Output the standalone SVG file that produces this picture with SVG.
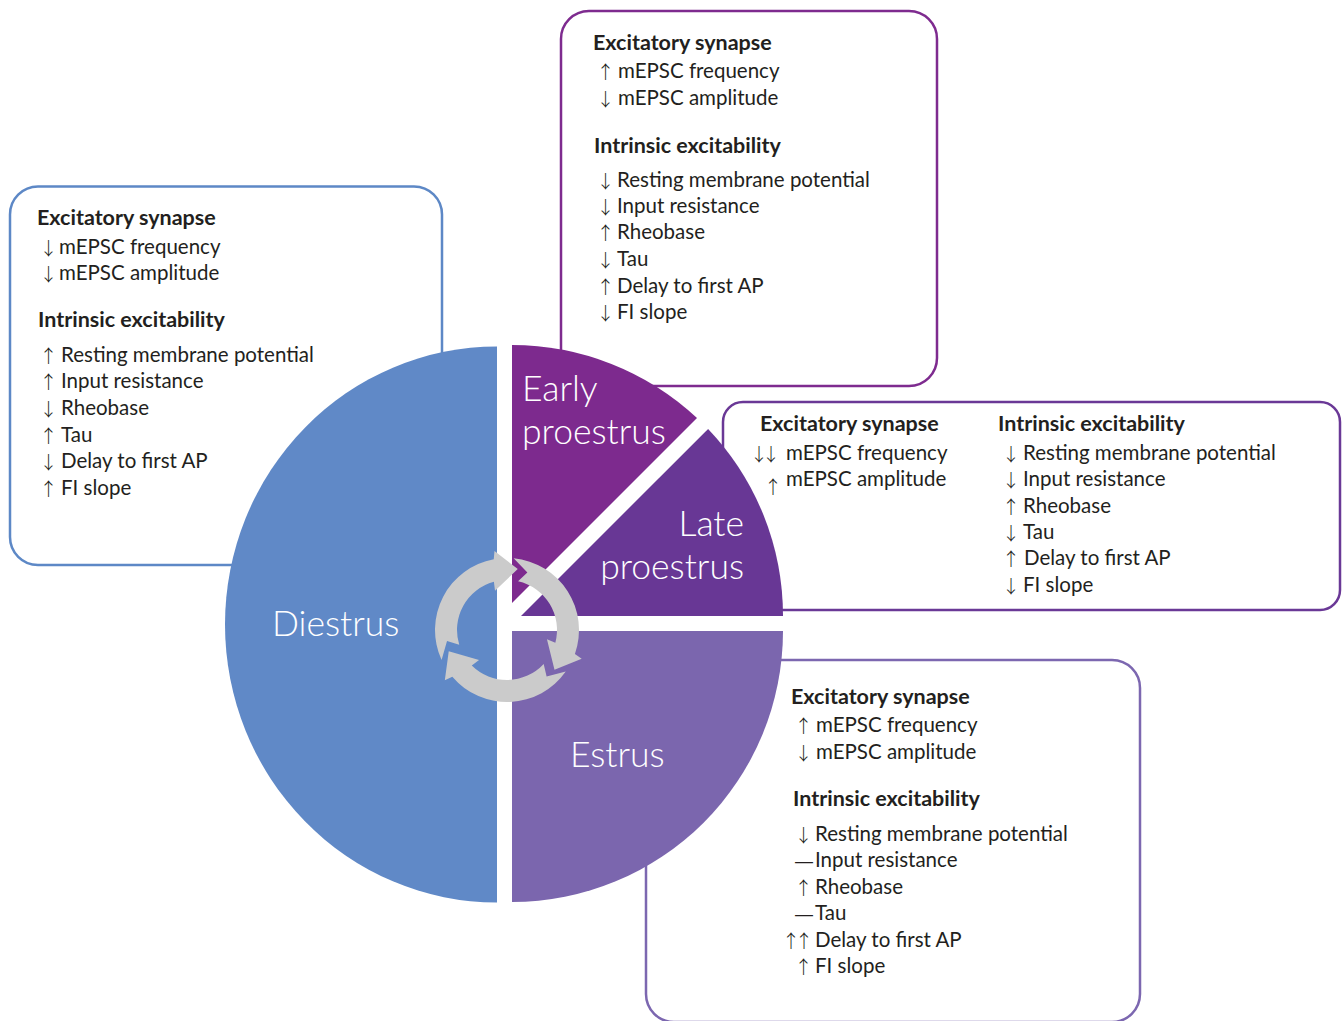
<svg xmlns="http://www.w3.org/2000/svg" xmlns:xlink="http://www.w3.org/1999/xlink" width="1344" height="1021" viewBox="0 0 1344 1021">
  <style>
    .box { fill: #ffffff; stroke-width: 2.5; }
    .t { font-family: Lato, "Open Sans", sans-serif; font-size: 20.5px; font-weight: 400; fill: #231f20; }
    .h { font-family: Lato, "Open Sans", sans-serif; font-size: 21.5px; font-weight: 700; fill: #231f20; }
    .ar { font-family: "Noto Sans CJK JP", "DejaVu Sans", sans-serif; font-size: 18px; font-weight: 300; text-anchor: middle; }
    .ar2 { font-family: "Noto Sans CJK JP", "DejaVu Sans", sans-serif; font-size: 18px; font-weight: 300; }
    .dash { font-family: "Liberation Sans", sans-serif; font-size: 18px; }
    .lbl { font-family: Lato, "Open Sans", sans-serif; font-size: 35.5px; font-weight: 300; fill: #ffffff; }
    .cyc { fill: #cbcbcb; }
  </style>
  <defs>
    <!-- one curved arrow of the cycle icon, tip at angle 0 around the origin -->
    <path id="cycArrow" d="M-40.99,-59.19 A72,72 0 0 1 67.40,-25.33 L75.64,-26.05 L62,0 L36.53,-18.61 L45.24,-21.29 A50,50 0 0 0 -22.85,-44.47 L-21.36,-57.14 Z"/>
  </defs>
  <rect width="1344" height="1021" fill="#ffffff"/>

  <!-- Frames of the info panels (drawn under the pie) -->
  <g id="frames">
    <rect class="box" x="10" y="186.5" width="432" height="378.5" rx="28" stroke="#5d88c6"/>
    <rect class="box" x="561" y="11" width="376" height="375" rx="28" stroke="#7e2b8f"/>
    <rect class="box" x="723" y="402" width="617" height="208" rx="20" stroke="#6a3896"/>
    <rect class="box" x="646" y="660" width="494" height="362" rx="28" stroke="#7c67b0"/>
  </g>

  <!-- Pie of the oestrous cycle -->
  <g id="diestrus">
    <path d="M497,346.5 A272,278 0 0 0 497,902.5 Z" fill="#6089c7"/>
    <text class="lbl" x="272" y="636">Diestrus</text>
  </g>
  <g id="early-proestrus">
    <path d="M512,345 A271,271 0 0 1 697,418 L512,603 Z" fill="#7d2a8e"/>
    <text class="lbl" x="522" y="401">Early</text>
    <text class="lbl" x="522" y="444">proestrus</text>
  </g>
  <g id="late-proestrus">
    <path d="M708.1,428.9 A271,271 0 0 1 783,616 L521,616 Z" fill="#683795"/>
    <text class="lbl" x="744" y="536" text-anchor="end">Late</text>
    <text class="lbl" x="744" y="579" text-anchor="end">proestrus</text>
  </g>
  <g id="estrus">
    <path d="M512,631 L783,631 A271,271 0 0 1 512,902 Z" fill="#7b66ae"/>
    <text class="lbl" x="570" y="767">Estrus</text>
  </g>

  <!-- Cycle icon -->
  <g id="cycle" class="cyc">
    <use xlink:href="#cycArrow" transform="translate(507,630) rotate(-80)"/>
    <use xlink:href="#cycArrow" transform="translate(507,630) rotate(40)"/>
    <use xlink:href="#cycArrow" transform="translate(507,630) rotate(160)"/>
  </g>

  <!-- Diestrus panel -->
  <g id="panel-diestrus">
    <text class="h" x="37" y="225">Excitatory synapse</text>
    <text class="t" y="254"><tspan class="ar" x="48.5" dy="1">↓</tspan><tspan x="59" dy="-1">mEPSC frequency</tspan></text>
    <text class="t" y="280"><tspan class="ar" x="48.5" dy="1">↓</tspan><tspan x="59" dy="-1">mEPSC amplitude</tspan></text>
    <text class="h" x="38" y="327">Intrinsic excitability</text>
    <text class="t" y="362"><tspan class="ar" x="48.5" dy="1">↑</tspan><tspan x="61" dy="-1">Resting membrane potential</tspan></text>
    <text class="t" y="388"><tspan class="ar" x="48.5" dy="1">↑</tspan><tspan x="61" dy="-1">Input resistance</tspan></text>
    <text class="t" y="415"><tspan class="ar" x="48.5" dy="1">↓</tspan><tspan x="61" dy="-1">Rheobase</tspan></text>
    <text class="t" y="442"><tspan class="ar" x="48.5" dy="1">↑</tspan><tspan x="61" dy="-1">Tau</tspan></text>
    <text class="t" y="468"><tspan class="ar" x="48.5" dy="1">↓</tspan><tspan x="61" dy="-1">Delay to first AP</tspan></text>
    <text class="t" y="495"><tspan class="ar" x="48.5" dy="1">↑</tspan><tspan x="61" dy="-1">FI slope</tspan></text>
  </g>

  <!-- Early proestrus panel -->
  <g id="panel-early">
    <text class="h" x="593" y="50">Excitatory synapse</text>
    <text class="t" y="78"><tspan class="ar" x="605.5" dy="1">↑</tspan><tspan x="618" dy="-1">mEPSC frequency</tspan></text>
    <text class="t" y="105"><tspan class="ar" x="605.5" dy="1">↓</tspan><tspan x="618" dy="-1">mEPSC amplitude</tspan></text>
    <text class="h" x="594" y="153">Intrinsic excitability</text>
    <text class="t" y="187"><tspan class="ar" x="605.5" dy="1">↓</tspan><tspan x="617" dy="-1">Resting membrane potential</tspan></text>
    <text class="t" y="213"><tspan class="ar" x="605.5" dy="1">↓</tspan><tspan x="617" dy="-1">Input resistance</tspan></text>
    <text class="t" y="239"><tspan class="ar" x="605.5" dy="1">↑</tspan><tspan x="617" dy="-1">Rheobase</tspan></text>
    <text class="t" y="266"><tspan class="ar" x="605.5" dy="1">↓</tspan><tspan x="617" dy="-1">Tau</tspan></text>
    <text class="t" y="293"><tspan class="ar" x="605.5" dy="1">↑</tspan><tspan x="617" dy="-1">Delay to first AP</tspan></text>
    <text class="t" y="319"><tspan class="ar" x="605.5" dy="1">↓</tspan><tspan x="617" dy="-1">FI slope</tspan></text>
  </g>

  <!-- Late proestrus panel -->
  <g id="panel-late">
    <text class="h" x="760" y="431">Excitatory synapse</text>
    <text class="t" y="460"><tspan class="ar2" x="750" dy="1" letter-spacing="-6">↓↓</tspan><tspan x="786" dy="-1">mEPSC frequency</tspan></text>
    <text class="t" y="486"><tspan class="ar" x="773" dy="8">↑</tspan><tspan x="786" dy="-8">mEPSC amplitude</tspan></text>
    <text class="h" x="998" y="431">Intrinsic excitability</text>
    <text class="t" y="460"><tspan class="ar" x="1011" dy="1">↓</tspan><tspan x="1023" dy="-1">Resting membrane potential</tspan></text>
    <text class="t" y="486"><tspan class="ar" x="1011" dy="1">↓</tspan><tspan x="1023" dy="-1">Input resistance</tspan></text>
    <text class="t" y="513"><tspan class="ar" x="1011" dy="1">↑</tspan><tspan x="1023" dy="-1">Rheobase</tspan></text>
    <text class="t" y="539"><tspan class="ar" x="1011" dy="1">↓</tspan><tspan x="1023" dy="-1">Tau</tspan></text>
    <text class="t" y="565"><tspan class="ar" x="1011" dy="1">↑</tspan><tspan x="1024" dy="-1">Delay to first AP</tspan></text>
    <text class="t" y="592"><tspan class="ar" x="1011" dy="1">↓</tspan><tspan x="1023" dy="-1">FI slope</tspan></text>
  </g>

  <!-- Estrus panel -->
  <g id="panel-estrus">
    <text class="h" x="791" y="704">Excitatory synapse</text>
    <text class="t" y="732"><tspan class="ar" x="803.5" dy="1">↑</tspan><tspan x="816" dy="-1">mEPSC frequency</tspan></text>
    <text class="t" y="759"><tspan class="ar" x="803.5" dy="1">↓</tspan><tspan x="816" dy="-1">mEPSC amplitude</tspan></text>
    <text class="h" x="793" y="806">Intrinsic excitability</text>
    <text class="t" y="841"><tspan class="ar" x="803.5" dy="1">↓</tspan><tspan x="815" dy="-1">Resting membrane potential</tspan></text>
    <text class="t" y="867"><tspan class="dash" x="795">—</tspan><tspan x="815">Input resistance</tspan></text>
    <text class="t" y="894"><tspan class="ar" x="803.5" dy="1">↑</tspan><tspan x="815" dy="-1">Rheobase</tspan></text>
    <text class="t" y="920"><tspan class="dash" x="795">—</tspan><tspan x="815">Tau</tspan></text>
    <text class="t" y="947"><tspan class="ar2" x="782" dy="1" letter-spacing="-5">↑↑</tspan><tspan x="815" dy="-1">Delay to first AP</tspan></text>
    <text class="t" y="973"><tspan class="ar" x="803.5" dy="1">↑</tspan><tspan x="815" dy="-1">FI slope</tspan></text>
  </g>
</svg>
